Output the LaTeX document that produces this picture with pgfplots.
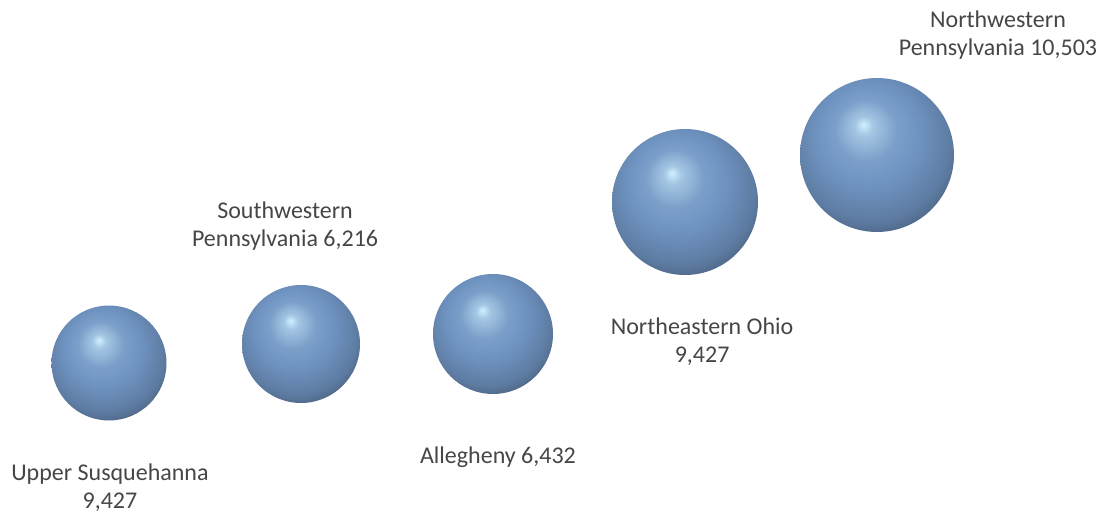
\documentclass[border=0pt]{standalone}
\usepackage{pgfplots}
\pgfplotsset{compat=1.18}
\usepackage{fontspec}
\setmainfont{Carlito}
\definecolor{labelgray}{RGB}{70,70,70}
\definecolor{bubble}{RGB}{112,148,194}
\definecolor{spherehl}{RGB}{208,240,255}
% softer sphere than the stock ball shading
\makeatletter
\pgfdeclareradialshading[tikz@ball]{ball}{\pgfqpoint{-4.5bp}{10bp}}{%
  color(0bp)=(spherehl);
  color(3bp)=(tikz@ball!45!spherehl);
  color(10bp)=(tikz@ball!88!spherehl);
  color(16bp)=(tikz@ball);
  color(26bp)=(tikz@ball!84!black);
  color(33bp)=(tikz@ball!60!black);
  color(50bp)=(tikz@ball!45!black)}
\makeatother
\begin{document}
\begin{tikzpicture}
\begin{axis}[
  scale only axis,
  width=1104pt, height=514pt,
  xmin=0.4323, xmax=6.1823,
  ymin=0, ymax=514,
  hide axis, clip=false,
]
\path (rel axis cs:0,0) rectangle (rel axis cs:1,1);
\pgfplotsset{every axis plot/.append style={only marks, mark=ball,
  mark options={ball color=bubble, draw=none, draw opacity=0}}}
% one bubble per region, mark size = bubble radius
\addplot[mark size=57.5pt] coordinates {(1,151)};
\addplot[mark size=59pt] coordinates {(2,170)};
\addplot[mark size=60pt] coordinates {(3,180)};
\addplot[mark size=73pt] coordinates {(4,312)};
\addplot[mark size=77pt] coordinates {(5,359)};

\begin{scope}[every node/.style={align=center, text=labelgray, font=\fontsize{24}{28}\selectfont}]
\node at (axis cs:1.005,26.5) {Upper Susquehanna\\9,427};
\node at (axis cs:1.917,288) {Southwestern\\Pennsylvania 6,216};
\node at (axis cs:3.026,57) {Allegheny 6,432};
\node at (axis cs:4.089,172) {Northeastern Ohio\\9,427};
\node at (axis cs:5.630,479) {Northwestern\\Pennsylvania 10,503};
\end{scope}
\end{axis}
\end{tikzpicture}
\end{document}
